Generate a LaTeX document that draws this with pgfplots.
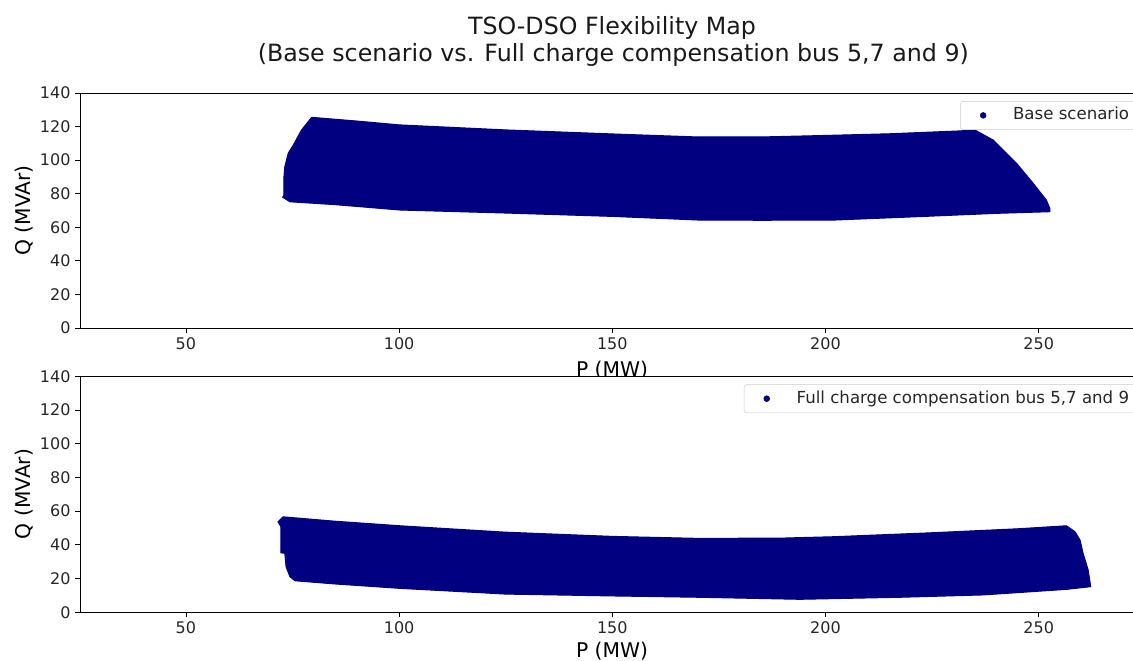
\documentclass[border=0pt]{standalone}
\usepackage{pgfplots}
\pgfplotsset{compat=1.18}
\usepackage{fontspec}
\setmainfont{DejaVu Sans}
\definecolor{navy}{RGB}{0,0,128}
\definecolor{legframe}{RGB}{204,204,204}

\pgfplotsset{
  flexax/.style={
    scale only axis,
    width=798pt,
    xmin=25.16, xmax=274.7,
    ymin=0, ymax=140,
    xtick={50,100,150,200,250},
    ytick={0,20,40,60,80,100,120,140},
    tick pos=left,
    tick align=outside,
    major tick length=3.6pt,
    every tick/.style={black, line width=0.6pt},
    axis line style={black, line width=0.6pt},
    tick label style={font=\fontsize{12}{14}\selectfont, text=black!85},
    /pgf/number format/assume math mode=true,
    /pgf/number format/1000 sep={},
    axis background/.style={fill=white},
    legend cell align=left,
    legend style={at={(1,1)}, anchor=north east, xshift=-4.5pt, yshift=-6pt,
      draw=legframe, rounded corners=2pt, fill=white,
      font=\fontsize{12.45}{15}\selectfont, text=black!85,
      inner xsep=4.5pt, inner ysep=2.4pt, column sep=8pt,
      nodes={inner sep=2pt, text height=9.5pt, text depth=2.9pt}},
    legend image code/.code={\path[draw=none, fill=none] (0pt,-1pt) (24.9pt,1pt);
      \draw[mark repeat=2,mark phase=2,#1] plot coordinates {(0pt,0pt)(12.45pt,0pt)(24.9pt,0pt)};},
  }
}

\begin{document}
\begin{tikzpicture}
\path[use as bounding box] (0pt,0pt) rectangle (849.75pt,-495.75pt);
\clip (0pt,0pt) rectangle (849.75pt,-495.75pt);

% title
\node[anchor=base, font=\fontsize{17.8}{21}\selectfont, text=black!90] at (459pt,-25.7pt) {TSO-DSO Flexibility Map};
\node[anchor=base, font=\fontsize{17.8}{21}\selectfont, text=black!90] at (460pt,-46.3pt) {(Base scenario vs. Full charge compensation bus 5,7 and 9)};

% top axis
\begin{axis}[flexax, at={(60pt,-246pt)}, anchor=south west, height=176.25pt]
\addplot[fill=navy, draw=navy, line width=0.8pt, forget plot] coordinates {
(79.5,125.5) (90,123.3) (100,121) (125,118) (150,115.6) (170,113.8) (185,113.8)
(200,114.7) (215,115.7) (231.5,117.4) (235,118) (239.3,112) (244.8,98.1)
(248.7,86.2) (251.8,76.2) (252.6,71.3) (252.6,69.3) (240,68.3) (221.4,66.3)
(201.8,64.3) (185,64.2) (170.5,64.3) (150,66.5) (125,68.5) (100.2,70.3)
(85,73.5) (74.4,75.2) (72.7,77.9) (73.0,79.2) (73.0,90.1) (73.2,96.1)
(74.0,104.1) (75.2,109.0) (77.1,117.9)
} -- cycle;
\addlegendimage{only marks, mark=*, mark size=2.2pt, navy}
\addlegendentry{Base scenario}
\end{axis}

% top xlabel (partly hidden by lower axes background)
\node[anchor=base, font=\fontsize{15.2}{18}\selectfont] at (459pt,-282.4pt) {P (MW)};
\node[anchor=base, rotate=90, font=\fontsize{15.2}{18}\selectfont] at (23.25pt,-157.9pt) {Q (MVAr)};

% bottom axis
\begin{axis}[flexax, at={(60pt,-459.2pt)}, anchor=south west, height=177pt]
\addplot[fill=navy, draw=navy, line width=0.8pt, forget plot] coordinates {
(72.8,56.6) (85,54) (100.2,51.3) (125,47.5) (150,45) (170.5,43.8) (190,44)
(201.8,44.8) (225.3,47.2) (245,49.5) (256.5,51.3) (258.5,47.8) (259.7,42.8)
(260.4,35) (261.6,25.1) (262.2,15.2) (256.5,13.6) (237,10.3) (217.4,8.9)
(194,7.7) (170.5,8.9) (150,9.7) (125,10.8) (100.2,14.2) (85,16.8) (75.6,18.7)
(74.4,21.1) (73.5,27) (73.2,35) (72.3,35.3) (72.3,50.7) (71.6,53.7)
} -- cycle;
\addlegendimage{only marks, mark=*, mark size=2.2pt, navy}
\addlegendentry{Full charge compensation bus 5,7 and 9}
\end{axis}

\node[anchor=base, font=\fontsize{15.2}{18}\selectfont] at (459pt,-493.1pt) {P (MW)};
\node[anchor=base, rotate=90, font=\fontsize{15.2}{18}\selectfont] at (23.25pt,-370.5pt) {Q (MVAr)};
\end{tikzpicture}
\end{document}
